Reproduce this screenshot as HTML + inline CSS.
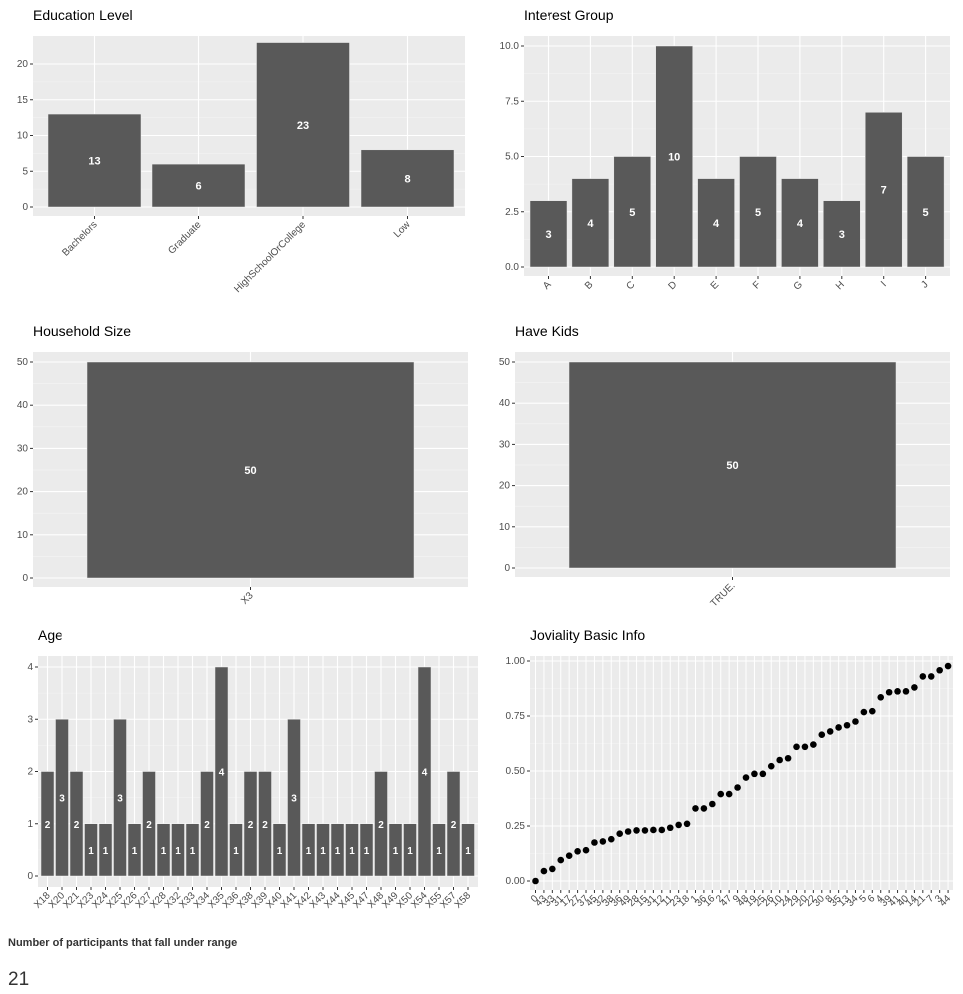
<!DOCTYPE html><html><head><meta charset="utf-8"><style>
body{margin:0;background:#fff;font-family:"Liberation Sans",sans-serif;}
svg text{font-family:"Liberation Sans",sans-serif;}
</style></head><body>
<svg id="s" width="963" height="989" xmlns="http://www.w3.org/2000/svg"></svg>
<script>
const s=document.getElementById('s');let h='';
function t(x,y,str,o={}){h+=`<text x="${x}" y="${y}" font-size="${o.fs||10}" fill="${o.c||'#4d4d4d'}" text-anchor="${o.a||'middle'}" ${o.r?`transform="rotate(${o.r} ${x} ${y})"`:''} ${o.w?'font-weight="bold"':''}>${str}</text>`;}
function panel(title,tx,px0,px1,py0,py1,y0,ytop,ymax,ticks,fmt){
 h+=`<text x="${tx}" y="${py0-16}" font-size="14" fill="#000">${title}</text>`;
 h+=`<rect x="${px0}" y="${py0}" width="${px1-px0}" height="${py1-py0}" fill="#ebebeb"/>`;
 const sc=(y0-ytop)/ymax;const Y=v=>y0-v*sc;
 for(let i=0;i<ticks.length-1;i++){const m=(ticks[i]+ticks[i+1])/2;h+=`<line x1="${px0}" x2="${px1}" y1="${Y(m)}" y2="${Y(m)}" stroke="#f5f5f5" stroke-width="0.6"/>`;}
 ticks.forEach(v=>{h+=`<line x1="${px0}" x2="${px1}" y1="${Y(v)}" y2="${Y(v)}" stroke="#fff" stroke-width="1.1"/>`;h+=`<line x1="${px0-3}" x2="${px0}" y1="${Y(v)}" y2="${Y(v)}" stroke="#333"/>`;t(px0-5,Y(v)+3,fmt?fmt(v):v,{a:'end'});});
 return Y;
}
function bars(Y,px0,py1,xs,w,vals,labels,rot,fs){
 xs.forEach((x,i)=>{h+=`<line x1="${x}" x2="${x}" y1="${py1-260}" y2="${py1}" stroke="#fff" stroke-width="1.1"/>`;});
 xs.forEach((x,i)=>{const v=vals[i];h+=`<rect x="${x-w/2}" y="${Y(v)}" width="${w}" height="${Y(0)-Y(v)}" fill="#595959" stroke="#ebebeb" stroke-width="0.5"/>`;
 t(x,(Y(v)+Y(0))/2+4,v,{c:'#fff',fs:fs||11,w:1});
 h+=`<line x1="${x}" x2="${x}" y1="${py1}" y2="${py1+3}" stroke="#333"/>`;
 t(x+3,py1+9,labels[i],{a:'end',r:rot});});
}
let Y=panel('Education Level',33,33,465,36,216,207,64,20,[0,5,10,15,20]);
bars(Y,33,216,[94.5,198.5,303,407.5],93,[13,6,23,8],['Bachelors','Graduate','HighSchoolOrCollege','Low'],-45);
Y=panel('Interest Group',524,524,950,36,276,267,46,10,[0,2.5,5,7.5,10],v=>v.toFixed(1));
let xs=[];for(let i=0;i<10;i++)xs.push(548.5+i*41.9);
bars(Y,524,276,xs,37,[3,4,5,10,4,5,4,3,7,5],'ABCDEFGHIJ'.split(''),-45);
Y=panel('Household Size',33,33,468,352,587,578,362,50,[0,10,20,30,40,50]);
bars(Y,33,587,[250.5],327,[50],['X3'],-45);
Y=panel('Have Kids',515,515,950,352,577,568,362,50,[0,10,20,30,40,50]);
bars(Y,515,577,[732.5],327,[50],['TRUE.'],-45);
Y=panel('Age',38,38,478,656,887,876,667,4,[0,1,2,3,4]);
const al=['X18','X20','X21','X23','X24','X25','X26','X27','X28','X32','X33','X34','X35','X36','X38','X39','X40','X41','X42','X43','X44','X45','X47','X48','X49','X50','X54','X55','X57','X58'];
const av=[2,3,2,1,1,3,1,2,1,1,1,2,4,1,2,2,1,3,1,1,1,1,1,2,1,1,4,1,2,1];
xs=al.map((_,i)=>47.5+i*14.5);
bars(Y,38,887,xs,13,av,al,-45,10);
Y=panel('Joviality Basic Info',530,530,953,656,890,881,661,1,[0,0.25,0.5,0.75,1],v=>v.toFixed(2));
const jv=[0,.045,.055,.095,.115,.135,.14,.175,.18,.19,.215,.225,.23,.23,.232,.232,.242,.255,.26,.33,.33,.35,.395,.395,.425,.47,.487,.487,.522,.55,.558,.61,.61,.62,.665,.68,.698,.708,.725,.768,.772,.835,.858,.862,.862,.88,.93,.93,.958,.977];
const jl=[0,43,33,31,17,27,37,45,32,38,36,49,28,15,31,12,11,23,18,1,36,16,2,47,9,48,19,25,26,10,24,29,20,22,30,8,35,13,34,5,6,4,39,41,40,14,21,7,3,44];
jv.forEach((v,i)=>{const x=535.5+i*8.42;h+=`<line x1="${x}" x2="${x}" y1="656" y2="890" stroke="#fff" stroke-width="1"/>`;});
jv.forEach((v,i)=>{const x=535.5+i*8.42;h+=`<circle cx="${x}" cy="${Y(v)}" r="3.3" fill="#000"/><line x1="${x}" x2="${x}" y1="890" y2="893" stroke="#333"/>`;t(x+3,899,jl[i],{a:'end',r:-45});});
t(8,946,'Number of participants that fall under range',{a:'start',fs:11,c:'#333',w:1});
t(8,985,'21',{a:'start',fs:19,c:'#333'});
s.innerHTML=h;
</script></body></html>
